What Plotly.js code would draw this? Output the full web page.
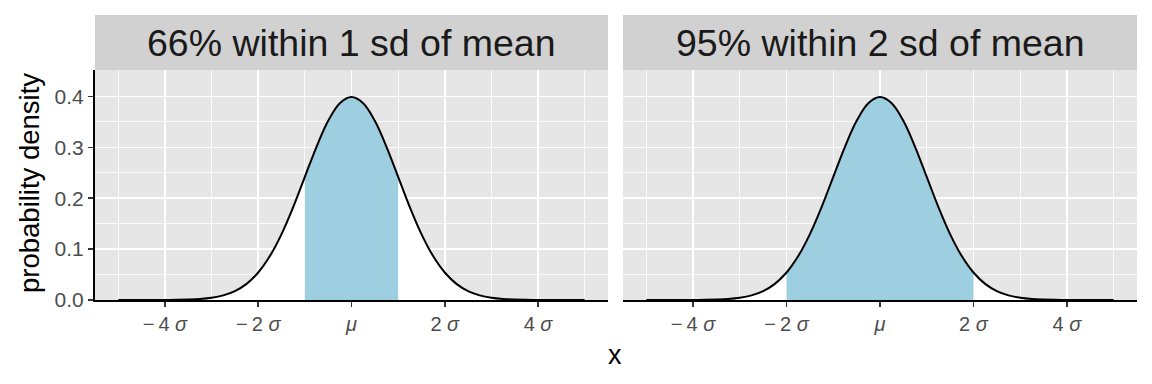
<!DOCTYPE html>
<html>
<head>
<meta charset="utf-8">
<script src="https://cdn.plot.ly/plotly-3.0.1.min.js"></script>
<style>html,body{margin:0;padding:0;background:#fff;}#chart{width:1152px;height:384px;}</style>
</head>
<body>
<div id="chart"></div>
<script>
// Data (standard normal density, in units of sd)
const xVals = [-5,-4.75,-4.5,-4.25,-4,-3.75,-3.5,-3.25,-3,-2.75,-2.5,-2.25,-2,-1.75,-1.5,-1.25,-1,-0.75,-0.5,-0.25,0,
               0.25,0.5,0.75,1,1.25,1.5,1.75,2,2.25,2.5,2.75,3,3.25,3.5,3.75,4,4.25,4.5,4.75,5];
const density = [0,0,0,0,0.0001,0.0004,0.0009,0.002,0.0044,0.0091,0.0175,0.0317,0.054,0.0863,0.1295,0.1826,0.242,0.3011,0.3521,0.3867,0.3989,
                 0.3867,0.3521,0.3011,0.242,0.1826,0.1295,0.0863,0.054,0.0317,0.0175,0.0091,0.0044,0.002,0.0009,0.0004,0.0001,0,0,0,0];
const panelTitles = ["66% within 1 sd of mean", "95% within 2 sd of mean"];
const shadeLimits = [1, 2];
const tickVals = [-4,-2,0,2,4];
const tickLabels = ["\u2212\u20094 <i>\u03C3</i>", "\u2212\u20092 <i>\u03C3</i>", "<i>\u03BC</i>", "2 <i>\u03C3</i>", "4 <i>\u03C3</i>"];
const yTickVals = [0,0.1,0.2,0.3,0.4];

const FONT = "Liberation Sans, Arial, sans-serif";
const W = 1152, H = 384;
const px = v => v / W, py = v => 1 - v / H;

const traces = [];
shadeLimits.forEach((lim, i) => {
  const xa = i === 0 ? 'x' : 'x2', ya = i === 0 ? 'y' : 'y2';
  traces.push({x: xVals, y: density, xaxis: xa, yaxis: ya, type: 'scatter', mode: 'lines',
    line: {width: 0, shape: 'spline', color: 'white'}, fill: 'tozeroy', fillcolor: '#FFFFFF', hoverinfo: 'skip'});
  const sx = [], sy = [];
  xVals.forEach((v, k) => { if (Math.abs(v) <= lim + 1e-9) { sx.push(v); sy.push(density[k]); } });
  traces.push({x: sx, y: sy, xaxis: xa, yaxis: ya, type: 'scatter', mode: 'lines',
    line: {width: 0, shape: 'spline', color: '#9ECFE1'}, fill: 'tozeroy', fillcolor: '#9ECFE1', hoverinfo: 'skip'});
  traces.push({x: xVals, y: density, xaxis: xa, yaxis: ya, type: 'scatter', mode: 'lines',
    line: {width: 2, shape: 'spline', color: '#000000'}, hoverinfo: 'skip'});
});

const yDom = [py(300), py(70)];
const xaxisBase = {
  range: [-5.5, 5.5], tickvals: tickVals, ticktext: tickLabels, showgrid: true, gridcolor: '#FFFFFF', gridwidth: 1.6,
  zeroline: false, showline: true, linecolor: '#000000', linewidth: 2, ticks: 'outside', ticklen: 5, tickwidth: 1.5,
  tickcolor: '#333333', tickfont: {family: FONT, size: 20, color: '#4D4D4D'},
  minor: {tickvals: [-5,-3,-1,1,3,5], showgrid: true, gridcolor: '#FFFFFF', gridwidth: 0.8, ticks: ''}
};
const yaxisBase = {
  range: [0, 0.452], tickvals: yTickVals, tickformat: '.1f', showgrid: true, gridcolor: '#FFFFFF', gridwidth: 1.6,
  zeroline: false, ticks: 'outside', ticklen: 5, tickwidth: 1.5, tickcolor: '#333333',
  tickfont: {family: FONT, size: 21, color: '#4D4D4D'},
  minor: {tickvals: [0.05,0.15,0.25,0.35], showgrid: true, gridcolor: '#FFFFFF', gridwidth: 0.8, ticks: ''}
};

const shapes = [], annotations = [];
const stripX = [[95, 608], [623, 1137]];
stripX.forEach((s, i) => {
  shapes.push({type: 'rect', xref: 'paper', yref: 'paper', x0: px(s[0]), x1: px(s[1]), y0: py(70), y1: py(15),
    fillcolor: '#D1D1D1', line: {width: 0}, layer: 'below'});
  annotations.push({xref: 'paper', yref: 'paper', x: px((s[0] + s[1]) / 2), y: py(43), text: panelTitles[i],
    showarrow: false, xanchor: 'center', yanchor: 'middle', font: {family: FONT, size: 37.5, color: '#1A1A1A'}});
});
annotations.push({xref: 'paper', yref: 'paper', x: px(615), y: py(355), text: 'x', showarrow: false,
  xanchor: 'center', yanchor: 'middle', font: {family: FONT, size: 27, color: '#000000'}});
annotations.push({xref: 'paper', yref: 'paper', x: px(29), y: py(183), text: 'probability density', showarrow: false,
  textangle: -90, xanchor: 'center', yanchor: 'middle', font: {family: FONT, size: 27.5, color: '#000000'}});

const layout = {
  width: W, height: H, margin: {l: 0, r: 0, t: 0, b: 0}, paper_bgcolor: '#FFFFFF', plot_bgcolor: '#E6E6E6',
  showlegend: false, font: {family: FONT},
  xaxis: Object.assign({}, xaxisBase, {domain: [px(95), px(608)], anchor: 'y'}),
  xaxis2: Object.assign({}, xaxisBase, {domain: [px(623), px(1137)], anchor: 'y2'}),
  yaxis: Object.assign({}, yaxisBase, {domain: yDom, anchor: 'x', showline: true, linecolor: '#000000', linewidth: 2}),
  yaxis2: Object.assign({}, yaxisBase, {domain: yDom, anchor: 'x2', showline: false, showticklabels: false, ticks: ''}),
  shapes: shapes, annotations: annotations
};
Plotly.newPlot('chart', traces, layout, {staticPlot: true, displayModeBar: false});
</script>
</body>
</html>
